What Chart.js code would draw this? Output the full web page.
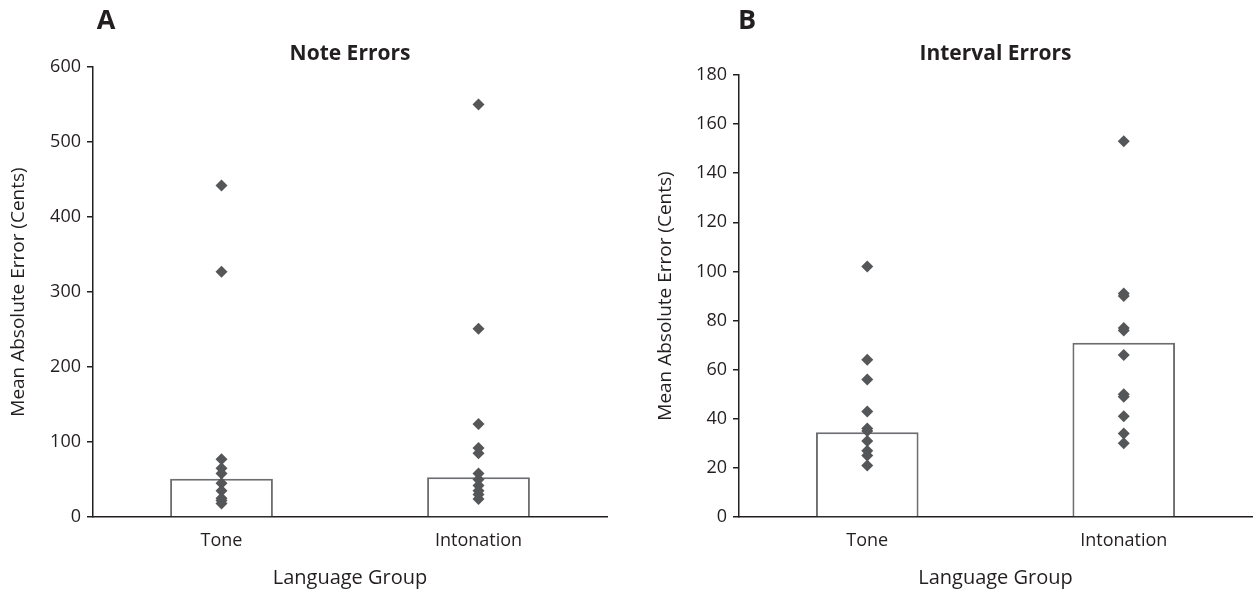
<!DOCTYPE html>
<html>
<head>
<meta charset="utf-8">
<script src="https://cdn.jsdelivr.net/npm/chart.js@4"></script>
<style>
  html, body { margin: 0; padding: 0; background: #fff; }
  #wrap { position: relative; width: 1260px; height: 594px; }
  .panel { position: absolute; top: 0; width: 630px; height: 594px; }
</style>
</head>
<body>
<div id="wrap">
  <div class="panel" style="left:0"><canvas id="noteChart" width="630" height="594"></canvas></div>
  <div class="panel" style="left:630px"><canvas id="intervalChart" width="630" height="594"></canvas></div>
</div>
<script>
const categories = ['Tone', 'Intonation'];

// Panel A - note errors (cents)
const noteMeans = [51, 53];
const noteTone = [442, 327, 77, 65, 58, 45, 35, 25, 22, 18];
const noteIntonation = [550, 251, 124, 92, 85, 58, 50, 42, 35, 30, 24];

// Panel B - interval errors (cents)
const intervalMeans = [34.5, 71];
const intervalTone = [102, 64, 56, 43, 36, 35, 31, 27, 25, 21];
const intervalIntonation = [153, 91, 90, 77, 76, 66, 50, 49, 41, 34, 30];

const FONT = "'Open Sans', 'Noto Sans', sans-serif";
const INK = '#231f20';

function toPoints(cat, values) {
  return values.map(v => ({ x: cat, y: v }));
}

// titulo del panel y letra
const panelText = {
  id: 'panelText',
  afterDraw(chart, args, opts) {
    const ctx = chart.ctx;
    const area = chart.chartArea;
    ctx.save();
    ctx.fillStyle = INK;
    ctx.textBaseline = 'middle';
    ctx.textAlign = 'center';
    ctx.font = `bold 27px ${FONT}`;
    ctx.fillText(opts.letter, opts.letterX, 21);
    ctx.font = `bold 21px ${FONT}`;
    ctx.fillText(opts.title, (area.left + area.right) / 2, 54);
    ctx.restore();
  }
};

function makeChart(id, cfg) {
  const ctx = document.getElementById(id);
  return new Chart(ctx, {
    data: {
      labels: categories,
      datasets: [
        {
          type: 'line',
          label: 'Tone',
          data: toPoints('Tone', cfg.tone),
          showLine: false,
          pointStyle: 'rectRot',
          pointRadius: 6,
          pointBorderWidth: 0,
          backgroundColor: '#555658',
          borderColor: '#555658',
          order: 1
        },
        {
          type: 'line',
          label: 'Intonation',
          data: toPoints('Intonation', cfg.intonation),
          showLine: false,
          pointStyle: 'rectRot',
          pointRadius: 6,
          pointBorderWidth: 0,
          backgroundColor: '#555658',
          borderColor: '#555658',
          order: 1
        },
        {
          type: 'bar',
          label: 'Mean',
          data: cfg.means,
          backgroundColor: '#ffffff',
          borderColor: '#6d6e71',
          borderWidth: 2,
          barPercentage: 0.4,
          categoryPercentage: 1,
          order: 2
        }
      ]
    },
    options: {
      responsive: false,
      animation: false,
      layout: {
        padding: { left: 0, top: cfg.top, right: 630 - cfg.right, bottom: 0 }
      },
      plugins: {
        legend: { display: false },
        tooltip: { enabled: false },
        panelText: { letter: cfg.letter, letterX: cfg.letterX, title: cfg.title }
      },
      scales: {
        x: {
          type: 'category',
          offset: true,
          grid: { display: false, drawTicks: false },
          border: { display: true, color: INK, width: 1.5 },
          ticks: { color: INK, font: { family: FONT, size: 18 }, padding: 13, maxRotation: 0 },
          title: {
            display: true,
            text: 'Language Group',
            color: INK,
            font: { family: FONT, size: 20 },
            padding: { top: 0, bottom: 4 }
          },
          afterFit(scale) { scale.height = 77; }
        },
        y: {
          min: 0,
          max: cfg.yMax,
          ticks: {
            stepSize: cfg.yStep,
            color: INK,
            font: { family: FONT, size: 18 },
            padding: 6
          },
          grid: {
            drawOnChartArea: false,
            drawTicks: true,
            tickLength: 6,
            color: INK,
            lineWidth: 1.5
          },
          border: { display: true, color: INK, width: 1.5 },
          title: {
            display: true,
            text: 'Mean Absolute Error (Cents)',
            color: INK,
            font: { family: FONT, size: 19 },
            padding: { top: cfg.titlePad, bottom: 0 }
          },
          afterFit(scale) { scale.width = cfg.left; }
        }
      }
    },
    plugins: [panelText]
  });
}

makeChart('noteChart', {
  means: noteMeans, tone: noteTone, intonation: noteIntonation,
  yMax: 600, yStep: 100,
  left: 93, right: 607, top: 67,
  titlePad: 7,
  letter: 'A', letterX: 106,
  title: 'Note Errors'
});

makeChart('intervalChart', {
  means: intervalMeans, tone: intervalTone, intonation: intervalIntonation,
  yMax: 180, yStep: 20,
  left: 109, right: 622, top: 75,
  titlePad: 24,
  letter: 'B', letterX: 117,
  title: 'Interval Errors'
});
</script>
</body>
</html>
